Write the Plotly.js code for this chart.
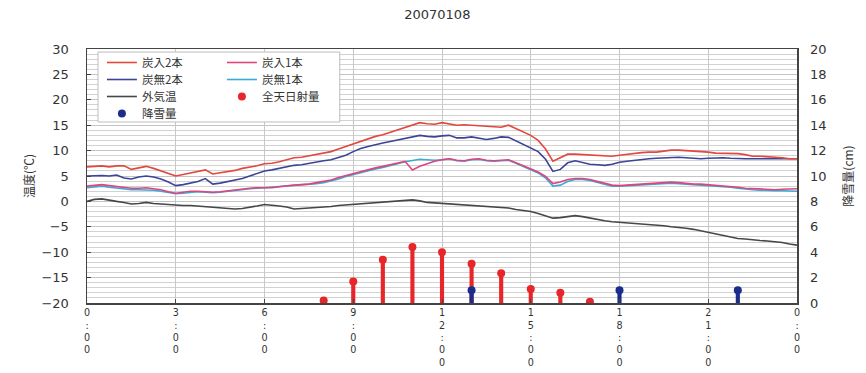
<!DOCTYPE html>
<html>
<head>
<meta charset="utf-8">
<script src="https://cdn.plot.ly/plotly-3.0.1.min.js"></script>
<style>html,body{margin:0;padding:0;background:#fff;}#chart{width:866px;height:373px;}</style>
</head>
<body>
<div id="chart"></div>
<script>
const hours = [0,0.25,0.5,0.75,1,1.25,1.5,1.75,2,2.25,2.5,2.75,3,3.25,3.5,3.75,4,4.25,4.5,4.75,5,5.25,5.5,5.75,6,6.25,6.5,6.75,7,7.25,7.5,7.75,8,8.25,8.5,8.75,9,9.25,9.5,9.75,10,10.25,10.5,10.75,11,11.25,11.5,11.75,12,12.25,12.5,12.75,13,13.25,13.5,13.75,14,14.25,14.5,14.75,15,15.25,15.5,15.75,16,16.25,16.5,16.75,17,17.25,17.5,17.75,18,18.25,18.5,18.75,19,19.25,19.5,19.75,20,20.25,20.5,20.75,21,21.25,21.5,21.75,22,22.25,22.5,22.75,23,23.25,23.5,23.75,24];

const tanIri2 = [6.8,6.9,7.0,6.8,7.0,7.0,6.3,6.6,6.9,6.5,6.0,5.5,5.0,5.3,5.6,5.9,6.2,5.4,5.6,5.9,6.1,6.5,6.7,7.0,7.4,7.5,7.8,8.2,8.6,8.7,9.0,9.2,9.5,9.8,10.3,10.8,11.3,11.8,12.3,12.8,13.1,13.6,14.0,14.6,15.0,15.5,15.3,15.2,15.5,15.2,15.0,15.1,15.0,14.9,14.8,14.7,14.6,15.0,14.3,13.7,13.0,12.0,10.3,7.9,8.6,9.3,9.3,9.2,9.1,9.1,9.0,8.9,9.1,9.3,9.5,9.6,9.7,9.7,9.9,10.1,10.1,10.0,10.0,9.9,9.7,9.5,9.5,9.4,9.4,9.2,8.9,8.9,8.8,8.8,8.6,8.4,8.4];

const tanNashi2 = [5.0,5.1,5.1,5.0,5.2,4.6,4.4,4.8,5.0,4.8,4.4,3.8,3.1,3.3,3.6,3.9,4.5,3.4,3.6,3.9,4.3,4.5,5.0,5.5,6.0,6.2,6.5,6.9,7.1,7.2,7.5,7.8,8.0,8.2,8.6,9.1,9.8,10.4,10.8,11.2,11.5,11.8,12.1,12.5,12.8,13.0,12.8,12.7,12.9,13.0,12.5,12.5,12.7,12.5,12.2,12.4,12.7,12.6,11.9,11.3,10.6,9.8,8.3,5.9,6.3,7.6,8.0,7.6,7.3,7.2,7.1,7.3,7.7,7.9,8.1,8.2,8.4,8.5,8.6,8.6,8.7,8.6,8.5,8.4,8.5,8.6,8.6,8.5,8.4,8.4,8.4,8.4,8.5,8.5,8.5,8.4,8.4];

const tanIri1 = [3.0,3.2,3.3,3.1,2.9,2.8,2.6,2.6,2.7,2.5,2.3,1.9,1.6,1.8,2.0,2.0,1.9,1.8,1.9,2.1,2.3,2.5,2.6,2.7,2.7,2.7,2.9,3.1,3.2,3.3,3.4,3.7,3.9,4.2,4.7,5.1,5.5,5.9,6.3,6.6,6.9,7.2,7.5,7.9,6.2,6.9,7.4,7.9,8.2,8.4,8.1,8.0,8.3,8.4,8.1,8.0,8.1,8.2,7.6,7.0,6.4,5.8,4.9,3.5,3.8,4.3,4.5,4.5,4.3,3.9,3.5,3.2,3.1,3.2,3.3,3.3,3.4,3.5,3.6,3.8,3.7,3.5,3.4,3.4,3.3,3.2,3.1,3.0,2.8,2.6,2.5,2.4,2.3,2.3,2.4,2.5,2.5];

const tanNashi1 = [2.7,2.9,3.0,2.8,2.6,2.5,2.3,2.3,2.3,2.2,2.0,1.7,1.5,1.6,1.8,1.9,1.8,1.7,1.8,2.0,2.2,2.4,2.5,2.6,2.7,2.8,2.9,3.0,3.1,3.2,3.3,3.5,3.7,4.0,4.4,4.9,5.3,5.7,6.1,6.4,6.7,7.0,7.4,7.8,8.1,8.3,8.2,8.1,8.2,8.4,8.0,7.9,8.2,8.3,8.0,7.9,8.0,8.1,7.5,6.9,6.2,5.6,4.6,3.0,3.2,3.9,4.3,4.3,4.1,3.7,3.3,3.0,3.0,3.1,3.2,3.2,3.3,3.4,3.5,3.6,3.5,3.4,3.3,3.3,3.2,3.0,2.9,2.8,2.6,2.4,2.3,2.2,2.1,2.1,2.1,2.0,2.0];

const gaikion = [0.0,0.4,0.5,0.2,0.0,-0.2,-0.5,-0.4,-0.2,-0.4,-0.5,-0.7,-0.7,-0.8,-0.8,-0.9,-1.0,-1.1,-1.2,-1.4,-1.5,-1.4,-1.2,-0.9,-0.6,-0.7,-0.9,-1.1,-1.5,-1.4,-1.3,-1.2,-1.2,-1.0,-0.8,-0.7,-0.6,-0.5,-0.4,-0.3,-0.2,-0.1,0.0,0.1,0.3,0.1,-0.2,-0.3,-0.4,-0.4,-0.5,-0.6,-0.7,-0.8,-0.9,-1.0,-1.1,-1.3,-1.6,-1.8,-2.0,-2.4,-2.8,-3.3,-3.2,-3.0,-2.8,-3.0,-3.3,-3.5,-3.8,-4.0,-4.1,-4.2,-4.3,-4.5,-4.6,-4.7,-4.8,-5.0,-5.1,-5.3,-5.5,-5.8,-6.1,-6.4,-6.7,-7.0,-7.3,-7.4,-7.6,-7.7,-7.8,-7.9,-8.1,-8.4,-8.6];

const solarHours = [8,9,10,11,12,13,14,15,16,17];
const solar = [0.2,1.7,3.4,4.4,4.0,3.1,2.35,1.1,0.8,0.1];
const snowHours = [13,18,22];
const snow = [1.0,1.0,1.0];

const xTickVals = [0,3,6,9,12,15,18,21,24];
const xTickText = ['0<br>:<br>0<br>0','3<br>:<br>0<br>0','6<br>:<br>0<br>0','9<br>:<br>0<br>0','1<br>2<br>:<br>0<br>0','1<br>5<br>:<br>0<br>0','1<br>8<br>:<br>0<br>0','2<br>1<br>:<br>0<br>0','0<br>:<br>0<br>0'];

const cRed = '#e2483e', cPink = '#e0447f', cNavy = '#3b4496', cCyan = '#3aaad6', cGray = '#474747';
const cSolar = '#e8262a', cSnow = '#1b2d8c';
const jp = 'Noto Sans CJK JP, sans-serif';
const num = 'DejaVu Sans, sans-serif';

const data = [
  {type:'bar', x:solarHours, y:solar, yaxis:'y2', width:0.14, marker:{color:cSolar}, showlegend:false, hoverinfo:'skip'},
  {type:'bar', x:snowHours, y:snow, yaxis:'y2', width:0.14, marker:{color:cSnow}, showlegend:false, hoverinfo:'skip'},
  {type:'scatter', mode:'lines', name:'外気温', x:hours, y:gaikion, line:{color:cGray, width:1.6}, legend:'legend3', legendrank:1},
  {type:'scatter', mode:'lines', name:'炭無1本', x:hours, y:tanNashi1, line:{color:cCyan, width:1.6}, legend:'legend2', legendrank:2},
  {type:'scatter', mode:'lines', name:'炭入1本', x:hours, y:tanIri1, line:{color:cPink, width:1.6}, legend:'legend', legendrank:2},
  {type:'scatter', mode:'lines', name:'炭無2本', x:hours, y:tanNashi2, line:{color:cNavy, width:1.6}, legend:'legend2', legendrank:1},
  {type:'scatter', mode:'lines', name:'炭入2本', x:hours, y:tanIri2, line:{color:cRed, width:1.6}, legend:'legend', legendrank:1},
  {type:'scatter', mode:'markers', name:'全天日射量', x:solarHours, y:solar, yaxis:'y2', marker:{color:cSolar, size:8}, legend:'legend3', legendrank:2},
  {type:'scatter', mode:'markers', name:'降雪量', x:snowHours, y:snow, yaxis:'y2', marker:{color:cSnow, size:8}, legend:'legend4', legendrank:1}
];

function leg(yc) {
  return {orientation:'h', xanchor:'left', yanchor:'middle', x:0.021, y:yc,
    bgcolor:'rgba(0,0,0,0)', borderwidth:0, font:{family:jp, size:11.5, color:'#333'},
    itemwidth:30, entrywidth:75, entrywidthmode:'pixels', traceorder:'normal'};
}

const layout = {
  width:866, height:373,
  margin:{l:87, r:69, t:49, b:70},
  paper_bgcolor:'#fff', plot_bgcolor:'#fff',
  barmode:'overlay',
  title:{text:'20070108', x:0.505, xref:'container', y:0.96, yref:'container', yanchor:'middle', font:{family:num, size:13, color:'#333'}},
  xaxis:{range:[0,24], tickvals:xTickVals, ticktext:xTickText, showgrid:true, gridcolor:'#c8c8c8', gridwidth:1,
    showline:true, linecolor:'#444', linewidth:1.5, mirror:true, ticks:'inside', ticklen:4, tickcolor:'#444',
    tickfont:{family:num, size:9.6, color:'#333'}, zeroline:false, fixedrange:true},
  yaxis:{range:[-20,30], dtick:5, tick0:0, showgrid:true, gridcolor:'#c4c4c4', gridwidth:1,
    minor:{dtick:1, showgrid:true, gridcolor:'#d2d2d2', gridwidth:1},
    showline:true, linecolor:'#444', linewidth:1.5, mirror:true, ticks:'inside', ticklen:4, tickcolor:'#444',
    tickfont:{family:num, size:13, color:'#333'}, ticklabelstandoff:14, zeroline:false,
    title:{text:'温度(℃)', font:{family:jp, size:12, color:'#333'}, standoff:4}},
  yaxis2:{range:[0,20], dtick:2, overlaying:'y', side:'right', showgrid:false, zeroline:false,
    ticks:'', tickfont:{family:num, size:13, color:'#333'}, ticklabelstandoff:12,
    title:{text:'降雪量(cm)', font:{family:jp, size:12, color:'#333'}, standoff:19}},
  legend: leg(0.9469),
  legend2: leg(0.8799),
  legend3: leg(0.8130),
  legend4: leg(0.7461),
  shapes:[{type:'rect', xref:'paper', yref:'paper', x0:0.0155, x1:0.356, y0:0.7126, y1:0.988,
    line:{color:'#bdbdbd', width:1}, fillcolor:'#fff', layer:'above'}]
};

Plotly.newPlot('chart', data, layout, {displayModeBar:false, staticPlot:true});
</script>
</body>
</html>
